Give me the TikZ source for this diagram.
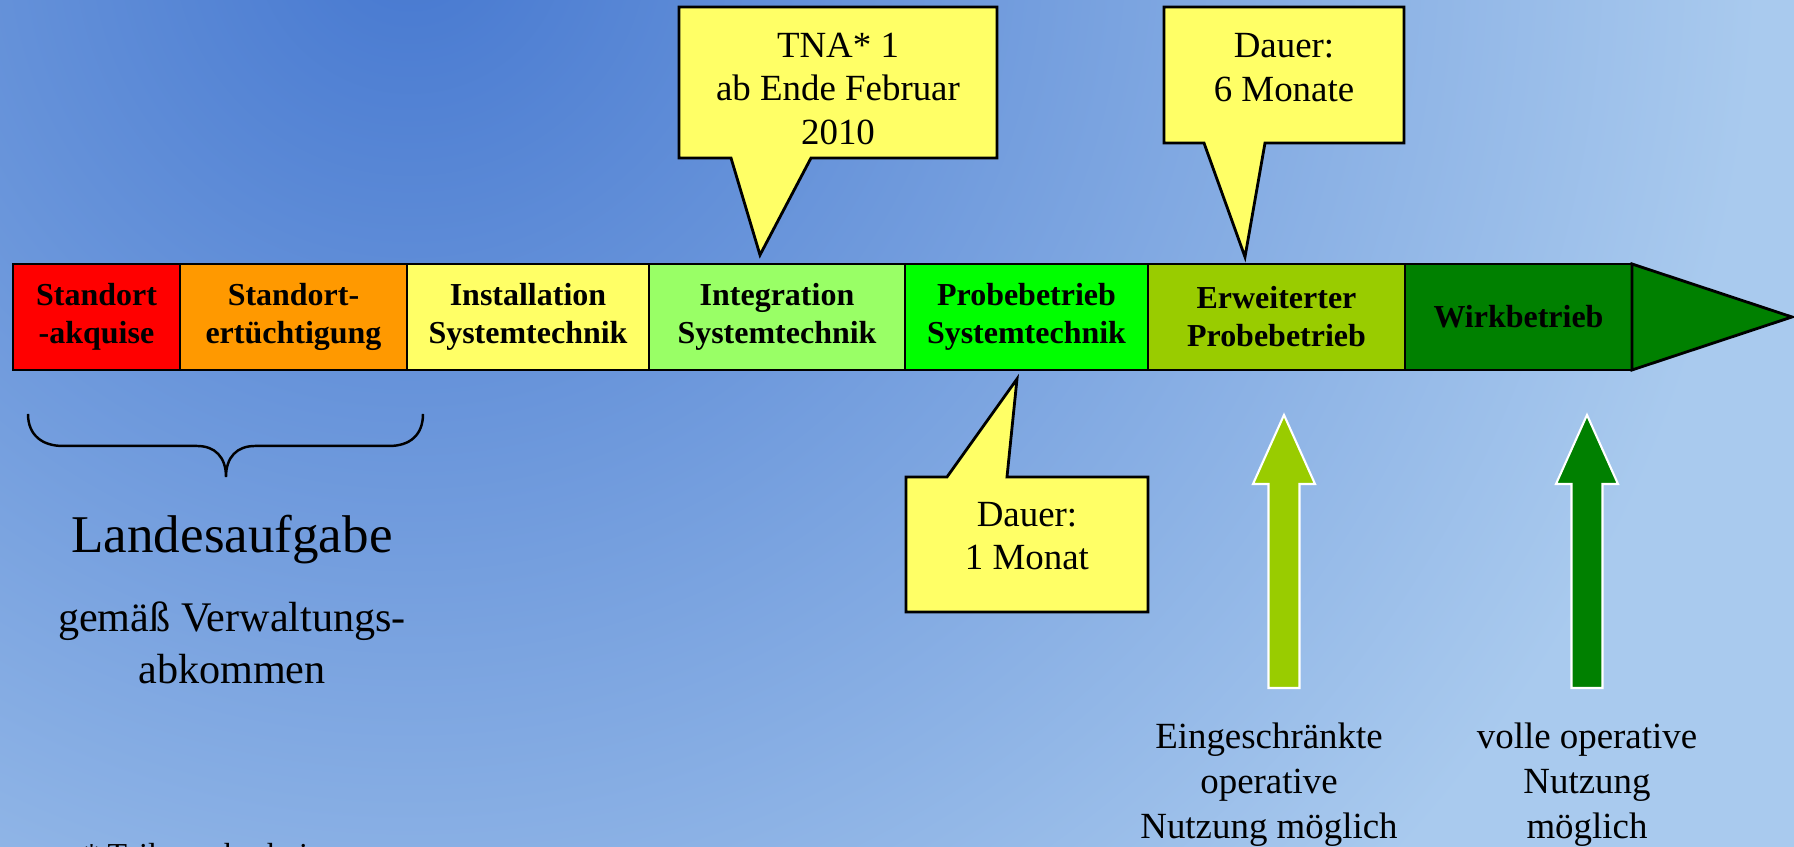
\documentclass[tikz,border=0pt]{standalone}
\usepackage{fontspec}
\setmainfont{Liberation Serif}
\usetikzlibrary{positioning}
\definecolor{bgdark}{HTML}{4678D0}
\definecolor{bglight}{HTML}{A9CAEE}
\definecolor{segred}{HTML}{FF0000}
\definecolor{segorange}{HTML}{FF9900}
\definecolor{segyellow}{HTML}{FFFF66}
\definecolor{seglime}{HTML}{99FF66}
\definecolor{seggreen}{HTML}{00FF00}
\definecolor{segolive}{HTML}{99CC00}
\definecolor{segdark}{HTML}{008000}
\definecolor{bubbleyellow}{HTML}{FFFF66}

\begin{document}
\begin{tikzpicture}[
    seg/.style={draw=black, line width=0.8pt, minimum height=1.06cm, inner sep=0pt, outer sep=0pt, align=center, font=\fontsize{9.1}{10.8}\selectfont\bfseries},
    bubble/.style={draw=black, line width=0.8pt, fill=bubbleyellow, line join=miter},
    bubbletext/.style={align=center, inner sep=0pt, font=\fontsize{10.5}{12.4}\selectfont},
    uparrow/.style={draw=white, line width=0.6pt, line join=miter},
    note/.style={align=center, inner sep=0pt, font=\fontsize{10.5}{12.8}\selectfont},
]
\useasboundingbox (0,0) rectangle (17.94,8.47);
\fill[bglight] (0,0) rectangle (17.94,8.47);
\begin{scope}
\clip (0,0) rectangle (17.94,8.47);
\shade[inner color=bgdark, outer color=bglight] (4.1,9.1) circle (13.5);
\end{scope}

\node[seg, fill=segred, minimum width=1.67cm, anchor=west] (akquise) at (0.13,5.30) {Standort\\-akquise};
\node[seg, fill=segorange, minimum width=2.27cm, right=0cm of akquise] (ertuecht) {Standort-\\ertüchtigung};
\node[seg, fill=segyellow, minimum width=2.42cm, right=0cm of ertuecht] (install) {Installation\\Systemtechnik};
\node[seg, fill=seglime, minimum width=2.56cm, right=0cm of install] (integ) {Integration\\Systemtechnik};
\node[seg, fill=seggreen, minimum width=2.43cm, right=0cm of integ] (probe) {Probebetrieb\\Systemtechnik};
\node[seg, fill=segolive, minimum width=2.57cm, right=0cm of probe] (erwprobe) {Erweiterter\\Probebetrieb};
\node[seg, fill=segdark, minimum width=2.27cm, right=0cm of erwprobe] (wirk) {Wirkbetrieb};
\coordinate (tip) at (17.92,5.30);
\draw[line width=0.8pt, fill=segdark, line join=miter] (wirk.north east) -- (tip) -- (wirk.south east) -- cycle;

\draw[bubble] (6.79,8.40) -- (9.97,8.40) -- (9.97,6.89) -- (8.11,6.89) -- (7.60,5.92) -- (7.31,6.89) -- (6.79,6.89) -- cycle;
\node[bubbletext] (tna) at (8.38,7.58) {TNA* 1\\ab Ende Februar\\2010};
\draw[bubble] (11.64,8.40) -- (14.04,8.40) -- (14.04,7.04) -- (12.65,7.04) -- (12.45,5.90) -- (12.04,7.04) -- (11.64,7.04) -- cycle;
\node[bubbletext] (sixmonths) at (12.84,7.795) {Dauer:\\6 Monate};
\draw[bubble] (9.06,3.70) -- (9.47,3.70) -- (10.17,4.68) -- (10.07,3.70) -- (11.48,3.70) -- (11.48,2.35) -- (9.06,2.35) -- cycle;
\node[bubbletext] (onemonth) at (10.27,3.11) {Dauer:\\1 Monat};

\draw[line width=0.7pt] (0.28,4.33) .. controls (0.28,4.12) and (0.42,4.01) .. (0.63,4.01) -- (1.97,4.01)
    .. controls (2.15,4.01) and (2.26,3.90) .. (2.26,3.70) .. controls (2.26,3.90) and (2.37,4.01) .. (2.55,4.01)
    -- (3.89,4.01) .. controls (4.10,4.01) and (4.23,4.12) .. (4.23,4.33);
\node[anchor=base, inner sep=0pt, font=\fontsize{15.1}{18}\selectfont] (land) at (2.32,2.94) {Landesaufgabe};
\node[align=center, inner sep=0pt, font=\fontsize{12}{14.8}\selectfont] (abkommen) at (2.32,2.045) {gemäß Verwaltungs-\\abkommen};

\draw[uparrow, fill=segolive] (12.84,4.32) -- (13.15,3.63) -- (12.995,3.63) -- (12.995,1.59) -- (12.685,1.59) -- (12.685,3.63) -- (12.53,3.63) -- cycle;
\draw[uparrow, fill=segdark] (15.87,4.32) -- (16.18,3.63) -- (16.025,3.63) -- (16.025,1.59) -- (15.715,1.59) -- (15.715,3.63) -- (15.56,3.63) -- cycle;
\node[note] (limited) at (12.69,0.625) {Eingeschränkte\\operative\\Nutzung möglich};
\node[note] (fulluse) at (15.87,0.625) {volle operative\\Nutzung\\möglich};

\node[anchor=base west, inner sep=0pt, font=\fontsize{9.1}{11}\selectfont] (tnafoot) at (0.83,-0.19) {* Teilnetzabschnitt};
\end{tikzpicture}
\end{document}
